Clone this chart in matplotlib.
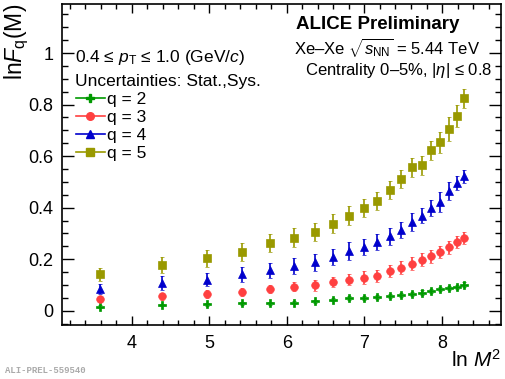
import numpy as np
import matplotlib
matplotlib.use("Agg")
import matplotlib.pyplot as plt
from matplotlib.lines import Line2D
from matplotlib.ticker import MultipleLocator

plt.rcParams['font.family'] = ['Liberation Sans', 'DejaVu Sans']
plt.rcParams['mathtext.fontset'] = 'custom'
plt.rcParams['mathtext.rm'] = 'Liberation Sans'
plt.rcParams['mathtext.it'] = 'Liberation Sans:italic'
plt.rcParams['mathtext.bf'] = 'Liberation Sans:bold'

# number of bins M; x axis is ln(M^2)
M_bins = [6, 9, 12, 15, 18, 21, 24, 27, 30, 33, 36, 39, 42, 45, 48, 51, 54, 57, 60, 63]

q2 = [0.016, 0.022, 0.025, 0.029, 0.030, 0.032, 0.037, 0.043, 0.049, 0.049,
      0.053, 0.057, 0.061, 0.066, 0.071, 0.077, 0.083, 0.088, 0.093, 0.102]
q2_err = [0.005, 0.005, 0.005, 0.006, 0.006, 0.006, 0.006, 0.006, 0.007, 0.007,
          0.007, 0.007, 0.007, 0.007, 0.008, 0.008, 0.008, 0.008, 0.008, 0.008]

q3 = [0.045, 0.057, 0.066, 0.074, 0.085, 0.093, 0.099, 0.111, 0.121, 0.129,
      0.135, 0.154, 0.168, 0.183, 0.199, 0.212, 0.228, 0.246, 0.266, 0.282]
q3_err = [0.010, 0.014, 0.015, 0.015, 0.016, 0.017, 0.022, 0.019, 0.021, 0.024,
          0.024, 0.022, 0.024, 0.026, 0.026, 0.025, 0.025, 0.024, 0.023, 0.023]

q4 = [0.084, 0.108, 0.121, 0.141, 0.157, 0.173, 0.188, 0.208, 0.231, 0.248,
      0.266, 0.289, 0.315, 0.344, 0.368, 0.398, 0.422, 0.465, 0.495, 0.521]
q4_err = [0.019, 0.027, 0.025, 0.028, 0.028, 0.031, 0.032, 0.032, 0.034, 0.032,
          0.031, 0.032, 0.031, 0.035, 0.029, 0.032, 0.037, 0.035, 0.026, 0.025]

q5 = [0.141, 0.177, 0.203, 0.227, 0.263, 0.284, 0.306, 0.338, 0.369, 0.398,
      0.426, 0.467, 0.512, 0.557, 0.564, 0.622, 0.654, 0.706, 0.757, 0.824]
q5_err = [0.026, 0.030, 0.032, 0.035, 0.036, 0.036, 0.036, 0.036, 0.036, 0.036,
          0.036, 0.035, 0.036, 0.037, 0.037, 0.038, 0.040, 0.046, 0.043, 0.037]

labels = ['q = 2', 'q = 3', 'q = 4', 'q = 5']
colors = ['#009900', '#ff4040', '#0000cc', '#999900']
markers = ['P', 'o', '^', 's']
sizes = [6, 5.5, 6, 5.5]

x = np.log(np.array(M_bins) ** 2)

fig = plt.figure(figsize=(5.05, 3.79), dpi=100)
ax = fig.add_axes([0.1228, 0.1425, 0.8692, 0.8469])

for ys, es, c, m, s in zip([q2, q3, q4, q5], [q2_err, q3_err, q4_err, q5_err], colors, markers, sizes):
    ax.errorbar(x, ys, yerr=es, fmt=m, color=c, ms=s, mec=c, mew=0.5, elinewidth=1.2,
                capsize=1.5, capthick=1.2, linestyle='none')

ax.set_xlim(3.1, 8.76)
ax.set_ylim(-0.055, 1.19)
ax.xaxis.set_major_locator(MultipleLocator(1))
ax.xaxis.set_minor_locator(MultipleLocator(0.2))
ax.yaxis.set_major_locator(MultipleLocator(0.2))
ax.yaxis.set_minor_locator(MultipleLocator(0.05))
ax.set_yticks([0, 0.2, 0.4, 0.6, 0.8, 1.0])
ax.set_yticklabels(['0', '0.2', '0.4', '0.6', '0.8', '1'])
ax.tick_params(which='both', direction='in', top=True, right=True, labelsize=13, width=1)
ax.tick_params(axis='x', which='major', length=6.5, pad=7)
ax.tick_params(axis='x', which='minor', length=3.3)
ax.tick_params(axis='y', which='major', length=8.5, pad=6)
ax.tick_params(axis='y', which='minor', length=4.5)
for sp in ax.spines.values():
    sp.set_linewidth(1.2)

ax.text(-0.103, 1.0, r'ln$F_{\rm q}$(M)', rotation=90, ha='center', va='top',
        fontsize=16.5, transform=ax.transAxes)
ax.text(1.0, -0.075, r'ln $M^2$', ha='right', va='top', fontsize=15,
        transform=ax.transAxes)

ax.text(0.719, 0.935, 'ALICE Preliminary', ha='center', va='center', fontsize=13.5,
        fontweight='bold', transform=ax.transAxes)
ax.text(0.952, 0.863, r'Xe–Xe $\sqrt{s_{\rm NN}}$ = 5.44 TeV', ha='right', va='center',
        fontsize=12, transform=ax.transAxes)
ax.text(0.979, 0.792, r'Centrality 0–5%, |$\eta$| ≤ 0.8', ha='right', va='center',
        fontsize=12, transform=ax.transAxes)
ax.text(0.03, 0.832, r'0.4 ≤ $p_{\rm T}$ ≤ 1.0 (GeV/$c$)', ha='left', va='center',
        fontsize=12.5, transform=ax.transAxes)
ax.text(0.03, 0.758, 'Uncertainties: Stat.,Sys.', ha='left', va='center',
        fontsize=12.5, transform=ax.transAxes)

handles = [Line2D([], [], color=c, marker=m, ms=s, lw=1.2, mec=c)
           for c, m, s in zip(colors, markers, sizes)]
ax.legend(handles, labels, loc='upper left', bbox_to_anchor=(0.032, 0.727), frameon=False,
          fontsize=12.5, handlelength=1.65, handletextpad=0.15, labelspacing=0.16,
          borderaxespad=0, borderpad=0)

fig.text(0.01, 0.022, 'ALI-PREL-559540', ha='left', va='center', fontsize=6.5,
         color='#aaaaaa', family='Liberation Mono', fontweight='bold')

fig.savefig('out.png', dpi=100)
